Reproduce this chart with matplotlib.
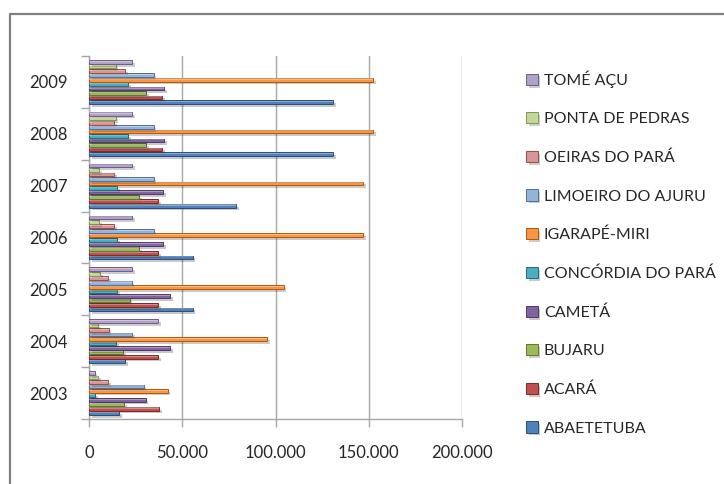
import numpy as np
import matplotlib.pyplot as plt
import matplotlib.patheffects as pe
from matplotlib.ticker import FuncFormatter, FixedLocator
from matplotlib.lines import Line2D

plt.rcParams['font.family'] = ['Lato', 'DejaVu Sans']

years = ['2003', '2004', '2005', '2006', '2007', '2008', '2009']

# municipios, na ordem das series (a primeira fica em baixo em cada grupo)
series_names = ['ABAETETUBA', 'ACARÁ', 'BUJARU', 'CAMETÁ', 'CONCÓRDIA DO PARÁ',
                'IGARAPÉ-MIRI', 'LIMOEIRO DO AJURU', 'OEIRAS DO PARÁ',
                'PONTA DE PEDRAS', 'TOMÉ AÇU']

abaetetuba = [16100, 19500, 55500, 55500, 78800, 131000, 131000]
acara = [37500, 37100, 37100, 37100, 37100, 39100, 39100]
bujaru = [18700, 18200, 21800, 26800, 26800, 30500, 30500]
cameta = [30300, 43600, 43600, 39600, 39600, 40200, 40200]
concordia = [3200, 14600, 15000, 15000, 15000, 20900, 20900]
igarape_miri = [42200, 95500, 104300, 146800, 146800, 152500, 152500]
limoeiro = [29300, 23000, 22900, 34600, 34600, 34600, 34600]
oeiras = [10200, 10500, 10400, 13400, 13400, 13400, 19300]
ponta_pedras = [5000, 5000, 5900, 5400, 5400, 14300, 14300]
tome_acu = [3000, 37100, 23200, 23200, 23200, 23200, 23200]

values = [abaetetuba, acara, bujaru, cameta, concordia,
          igarape_miri, limoeiro, oeiras, ponta_pedras, tome_acu]

colors = ['#4F81BD', '#C0504D', '#9BBB59', '#8064A2', '#4BACC6',
          '#F79646', '#95B3D7', '#DA9694', '#C3D69B', '#B3A2C7']
edges = ['#2C4D75', '#772C2A', '#5F7530', '#4D3B62', '#276A7C',
         '#B65708', '#4F6F9A', '#9A4B48', '#7F9A48', '#6E5B8A']

fig = plt.figure(figsize=(7.24, 4.84), dpi=100)

# moldura do grafico (so aparecem as bordas de cima e da esquerda)
fig.add_artist(Line2D([9.5 / 724, 9.5 / 724, 1.0], [0.0, 1 - 14 / 484, 1 - 14 / 484],
                      transform=fig.transFigure, color='#808080', linewidth=1.6))

ax = fig.add_axes([89 / 724, 65 / 484, 373 / 724, 363 / 484])
ax.set_facecolor('none')

n = len(series_names)
slot = 0.86 / n
y0 = np.arange(len(years))
for i in range(n):
    ypos = y0 - 0.43 + (i + 0.5) * slot
    ax.barh(ypos, values[i], height=slot * 0.84, color=colors[i],
            edgecolor=edges[i], linewidth=0.7, zorder=3,
            label=series_names[i],
            path_effects=[pe.SimplePatchShadow(offset=(2, -2), alpha=0.25),
                          pe.Normal()])
    # brilho na metade de cima de cada barra
    ax.barh(ypos + slot * 0.15, values[i], height=slot * 0.25,
            color='white', alpha=0.35, linewidth=0, zorder=4)

ax.set_xlim(0, 200000)
ax.set_ylim(-0.5, len(years) - 0.5)

ax.set_xticks([0, 50000, 100000, 150000, 200000])
ax.xaxis.set_major_formatter(FuncFormatter(lambda v, p: f'{int(v):,}'.replace(',', '.')))
ax.grid(axis='x', color='#A6A6A6', linewidth=1.0, zorder=0)

ax.set_yticks(y0)
ax.set_yticklabels(years)
ax.yaxis.set_minor_locator(FixedLocator(np.arange(-0.5, len(years), 1.0)))

ax.tick_params(axis='y', which='major', length=0, pad=15, labelsize=12,
               labelcolor='#262626')
ax.tick_params(axis='y', which='minor', length=6, color='#A6A6A6', width=1.0)
ax.tick_params(axis='x', which='major', length=6, color='#A6A6A6', width=1.0,
               pad=13, labelsize=12, labelcolor='#262626')

for side in ['top', 'right']:
    ax.spines[side].set_visible(False)
for side in ['left', 'bottom']:
    ax.spines[side].set_color('#A6A6A6')
    ax.spines[side].set_linewidth(1.0)

handles, labels = ax.get_legend_handles_labels()
handles = [h for h in handles if h.get_label() in series_names]
leg = fig.legend(handles[::-1], series_names[::-1], loc='upper left',
                 bbox_to_anchor=(512 / 724, 1 - 56 / 484), frameon=False,
                 fontsize=11.5, handlelength=0.7, handleheight=0.7,
                 handletextpad=0.4, labelspacing=1.52,
                 labelcolor='#262626')

fig.savefig('out.png', dpi=100)
